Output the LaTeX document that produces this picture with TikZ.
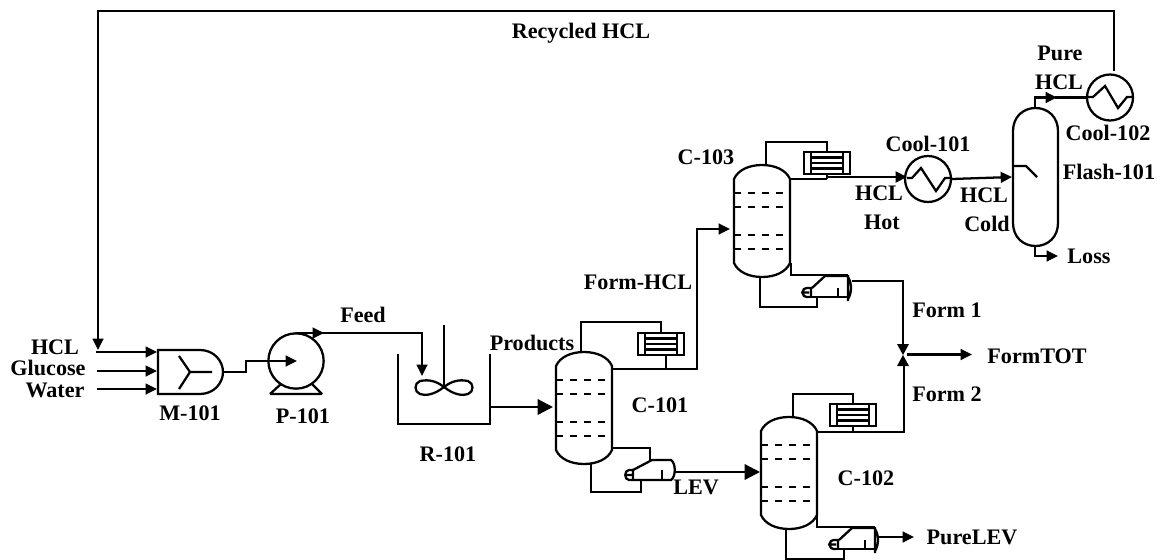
\documentclass[tikz,border=0pt]{standalone}
\usepackage{fontspec}
\setmainfont{Liberation Serif}
\usetikzlibrary{arrows.meta}
\tikzset{
  x=0.75pt,y=-0.75pt,
  every path/.style={line width=1.7pt,line join=miter},
  lab/.style={font=\fontsize{16.6pt}{18pt}\selectfont\bfseries,inner sep=0pt,anchor=center},
  arr/.style={-{Triangle[length=8.5pt,width=8pt]}},
  bigarr/.style={-{Triangle[length=11.5pt,width=11.5pt]}},
  exch/.style={draw,circle,minimum size=34.5pt,inner sep=0pt,line width=1.7pt},
  pics/column/.style={code={
    \draw (0,14) .. controls (4,5) and (15,0) .. (28,0) .. controls (41,0) and (52,5) .. (56,14)
      -- (56,98) .. controls (52,107) and (41,112) .. (28,112) .. controls (15,112) and (4,107) .. (0,98) -- cycle;
    \foreach \yy in {28,42,70,84}{\draw[dash pattern=on 5.5pt off 5pt] (0,\yy) -- (56,\yy);}
    \coordinate (-top) at (25,0);
    \coordinate (-bot) at (28,112);
  }},
  pics/condenser/.style={code={
    \draw (0,0) rectangle (46,22);
    \draw (7,0) -- (7,22) (39,0) -- (39,22);
    \draw (7,5.5) -- (39,5.5) (7,11) -- (39,11) (7,16.5) -- (39,16.5);
    \coordinate (-top) at (23,0);
    \coordinate (-bot) at (23,22);
  }},
  pics/reboilerA/.style={code={
    \draw (8,10) -- (27,0) -- (46,0) .. controls (51,3) and (51,17) .. (46,20) -- (8,20);
    \draw (8,10) -- (4,10) .. controls (-1,10) and (-1,20) .. (4,20) -- (8,20) (1,15) -- (8,15) (8,10) -- (8,20);
    \draw (37,10) -- (37,20);
    \coordinate (-in) at (25,0);
    \coordinate (-ret) at (16,20);
    \coordinate (-out) at (50,12);
  }},
  pics/reboilerB/.style={code={
    \draw (12,13) -- (25,1) -- (48,1);
    \draw[line width=2.2pt] (25,0) -- (48,0);
    \draw (48,0) -- (48,26) (48,2) .. controls (52,8) and (52,18) .. (48,24);
    \draw (8,22) -- (48,22);
    \draw (9,13) .. controls (0,12) and (0,23) .. (9,22) (2,17.5) -- (9,17.5) (9,13) -- (12,13) (11,13) -- (11,22);
    \draw (38,13) -- (38,22);
    \coordinate (-ret) at (17,22);
    \coordinate (-out) at (51,10);
    \coordinate (-outb) at (52,6);
    \coordinate (-corner) at (48,0);
  }},
}
\begin{document}
\begin{tikzpicture}
\useasboundingbox (0,0) rectangle (1163,560);
% Mixer
\draw (158,350) -- (200,350) .. controls (214,350) and (223,361) .. (223,372) .. controls (223,383) and (214,394) .. (200,394) -- (158,394) -- cycle;
\draw (179,356) -- (190,372) -- (179,389) (190,372) -- (212,372);
\coordinate (mixA) at (157,352);
\coordinate (mixB) at (157,371);
\coordinate (mixC) at (157,389);
\coordinate (mixOut) at (223,372);
% Pump
\node[exch,minimum size=41.5pt] (pump) at (296,361) {};
\draw (270,394) -- (322,394) (270,394) -- (281,384) (322,394) -- (312,384);
\coordinate (pumpIn) at (297,361);
\coordinate (pumpOut) at (296,333);
% Reactor
\draw (398,354) -- (398,424) -- (490,424) -- (490,354);
\coordinate (shaftTop) at (444,325);
\coordinate (shaftBot) at (444,387);
\draw (shaftTop) -- (shaftBot);
\draw (444,387) .. controls (434,379) and (425,380) .. (420,381) .. controls (414,383) and (414,392) .. (420,394) .. controls (425,396) and (434,395) .. (444,387)
  .. controls (454,379) and (463,380) .. (468,381) .. controls (474,383) and (474,392) .. (468,394) .. controls (463,396) and (454,395) .. (444,387);
\coordinate (reacIn) at (422,376);
\coordinate (reacOut) at (490,407);
% Columns
\pic (cA) at (556,352) {column};
\pic (cB) at (761,417) {column};
\pic (cC) at (734,165) {column};
% Condensers
\pic (cdA) at (638,333) {condenser};
\pic (cdB) at (830,404) {condenser};
\pic (cdC) at (804,152) {condenser};
% Reboilers
\pic (rbA) at (625,460) {reboilerA};
\pic (rbB) at (827,527) {reboilerB};
\pic (rbC) at (800,275) {reboilerB};
% Heat exchangers
\node[exch] (coolA) at (928,179) {};
\node[exch] (coolB) at (1110,97.5) {};
\draw (907,178) -- (912,178) -- (921,168) -- (936,191) -- (945,178) -- (952,178);
\draw (1087,97) -- (1093,97) -- (1105,86) -- (1118,108) -- (1127,97) -- (1133,97);
% Flash drum
\draw (1013,131) .. controls (1013,117) and (1023,108) .. (1035.5,108) .. controls (1048,108) and (1058,117) .. (1058,131)
  -- (1058,223) .. controls (1058,237) and (1048,246) .. (1035.5,246) .. controls (1023,246) and (1013,237) .. (1013,223) -- cycle;
\draw (1013,166) -- (1026,166) -- (1037,177);
\coordinate (flashTop) at (1035,108);
\coordinate (flashBot) at (1035,246);
% Free ends / waypoints
\coordinate (srcHCL) at (96,352);
\coordinate (srcGlu) at (97,371);
\coordinate (srcWat) at (97,389);
\coordinate (recEnd) at (98,350);
\coordinate (recStart) at (1114,71);
\coordinate (juncOut) at (907,354.5);
\coordinate (totEnd) at (972,354.5);
\coordinate (pureEnd) at (914,537);
\coordinate (lossEnd) at (1058,256);
% Connectors
\draw[arr] (recStart) -- (1114,11) -- (98,11) -- (recEnd);
\draw[arr] (srcHCL) -- (mixA);
\draw[arr] (srcGlu) -- (mixB);
\draw[arr] (srcWat) -- (mixC);
\draw[arr] (mixOut) -- (246,372) -- (246,361) -- (pumpIn);
\draw[arr] (pumpOut) -- (324,333);
\draw[arr] (pumpOut) -- (422,333) -- (reacIn);
\draw[bigarr] (reacOut) -- (553,407);
% C-101
\draw (cA-top) -- (581,322) -- (661,322) -- (cdA-top);
\draw (666,355) -- (666,369);
\draw[arr] (611,369) -- (697,369) -- (697,229) -- (730,229);
\draw (611,448) -- (650,448) -- (rbA-in);
\draw (591,463) -- (591,492) -- (641,492) -- (rbA-ret);
\draw[bigarr] (rbA-out) -- (675,472) -- (760,472);
% C-102
\draw (793,417) -- (793,394) -- (853,394) -- (cdB-top);
\draw (cdB-bot) -- (853,432);
\draw (817,432) -- (904,432) -- (904,358);
\draw (817,515) -- (817,527) -- (rbB-corner);
\draw (786,529) -- (786,559) -- (844,559) -- (rbB-ret);
\draw[arr] (rbB-out) -- (pureEnd);
% C-103
\draw (766,165) -- (766,142) -- (827,142) -- (cdC-top);
\draw (cdC-bot) -- (827,179);
\draw (791,179) -- (827,179);
\draw[arr,line width=2.2pt] (827,177) -- (907,177);
\draw (791,263) -- (791,275) -- (rbC-corner);
\draw (760,277) -- (760,307) -- (817,307) -- (rbC-ret);
\draw (rbC-outb) -- (903,281) -- (903,350);
% Junction
\fill (903,355) -- (897,344) -- (909,344) -- cycle;
\fill (903,355) -- (897,366) -- (909,366) -- cycle;
\draw[arr] (juncOut) -- (totEnd);
% Flash
\draw[arr] (coolA.east) -- (1012,177);
\draw[arr] (flashTop) -- (1035,97.5) -- (1057,97.5);
\draw (1055,97.5) -- (coolB.west);
\draw[arr] (flashBot) -- (1035,256) -- (lossEnd);
% Labels
\node[lab] (l1) at (581,33) {Recycled HCL};
\node[lab] (l2) at (1060,53) {Pure};
\node[lab] (l3) at (1059,82) {HCL};
\node[lab] (l4) at (1108,133) {Cool-102};
\node[lab] (l5) at (1109,172) {Flash-101};
\node[lab] (l6) at (1089,256) {Loss};
\node[lab] (l7) at (928,144) {Cool-101};
\node[lab] (l8) at (984,195) {HCL};
\node[lab] (l9) at (987,224) {Cold};
\node[lab] (l10) at (879,193) {HCL};
\node[lab] (l11) at (882,222) {Hot};
\node[lab] (l12) at (706,157) {C-103};
\node[lab] (l13) at (638,282) {Form-HCL};
\node[lab] (l14) at (947,310) {Form 1};
\node[lab] (l15) at (1037,356) {FormTOT};
\node[lab] (l16) at (947,394) {Form 2};
\node[lab] (l17) at (660,405) {C-101};
\node[lab] (l18) at (866,478) {C-102};
\node[lab] (l19) at (696,487) {LEV};
\node[lab] (l20) at (972,537) {PureLEV};
\node[lab] (l21) at (448,454) {R-101};
\node[lab] (l22) at (532,343) {Products};
\node[lab] (l23) at (363,315) {Feed};
\node[lab] (l24) at (55,347) {HCL};
\node[lab] (l25) at (48,368) {Glucose};
\node[lab] (l26) at (55,390) {Water};
\node[lab] (l27) at (190,413) {M-101};
\node[lab] (l28) at (303,416) {P-101};
\end{tikzpicture}
\end{document}
